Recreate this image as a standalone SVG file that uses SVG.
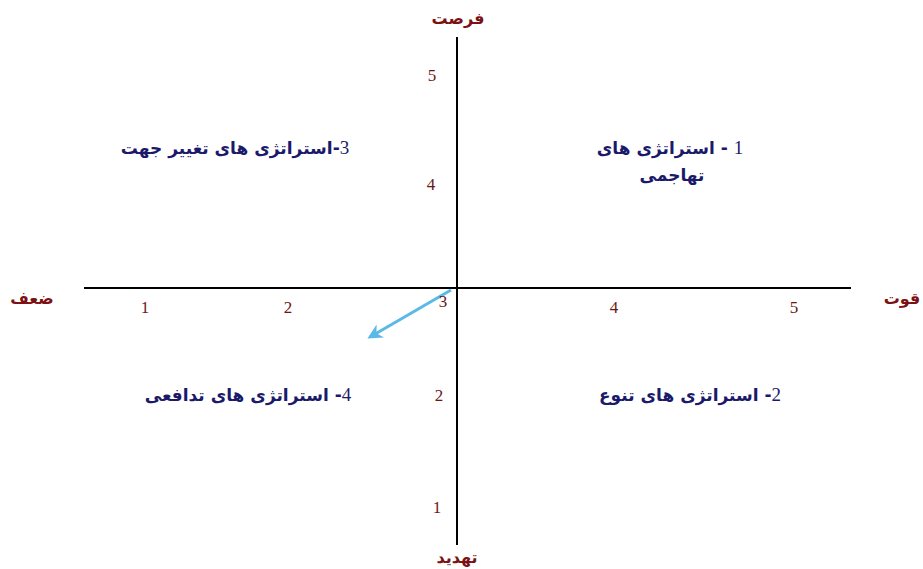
<svg xmlns="http://www.w3.org/2000/svg" width="923" height="569" viewBox="0 0 923 569">
<defs>
<style>
.axis{stroke:#000;stroke-width:2;fill:none}
.num{font-family:"Liberation Serif",serif;font-size:17px;fill:#6b1515;text-anchor:middle}
.lbl{font-family:"DejaVu Sans",sans-serif;font-weight:bold;font-size:16px;fill:#7b1113;text-anchor:middle}
.q{font-family:"DejaVu Sans",sans-serif;font-weight:bold;font-size:17px;fill:#1b1a6a;text-anchor:middle}
.d{font-family:"Liberation Serif",serif;font-weight:normal;font-size:19px}
.arrow{stroke:#5ab9e6;stroke-width:3;fill:none}
</style>
<marker id="ah" viewBox="0 0 10 10" refX="8" refY="5" markerWidth="5" markerHeight="5" orient="auto">
<path d="M0,0 L10,5 L0,10 L3,5 z" fill="#5ab9e6"/>
</marker>
</defs>
<g id="connectors">
<line class="axis" x1="457" y1="37" x2="457" y2="545"/>
<line class="axis" x1="84" y1="288" x2="851" y2="288"/>
<line class="arrow" x1="451" y1="290" x2="370" y2="337" marker-end="url(#ah)"/>
</g>
<g id="axis-labels">
<text class="lbl" x="458" y="24">فرصت</text>
<text class="lbl" x="457" y="563">تهدید</text>
<text class="lbl" x="32" y="304">ضعف</text>
<text class="lbl" x="902" y="304">قوت</text>
</g>
<g id="x-numbers">
<text class="num" x="145" y="313">1</text>
<text class="num" x="288" y="313">2</text>
<text class="num" x="443" y="307">3</text>
<text class="num" x="614" y="313">4</text>
<text class="num" x="794" y="313">5</text>
</g>
<g id="y-numbers">
<text class="num" x="432" y="81">5</text>
<text class="num" x="431" y="190">4</text>
<text class="num" x="439" y="401">2</text>
<text class="num" x="437" y="513">1</text>
</g>
<g id="q1">
<text class="q" x="670" y="154" direction="rtl"><tspan class="d">1</tspan> - استراتژی  های</text>
<text class="q" x="672" y="181" direction="rtl">تهاجمی</text>
</g>
<g id="q3">
<text class="q" x="235" y="154" direction="rtl"><tspan class="d">3</tspan>-استراتژی  های تغییر جهت</text>
</g>
<g id="q4">
<text class="q" x="248" y="401" direction="rtl"><tspan class="d">4</tspan>- استراتژی  های تدافعی</text>
</g>
<g id="q2">
<text class="q" x="690" y="401" direction="rtl"><tspan class="d">2</tspan>- استراتژی  های تنوع</text>
</g>
</svg>
